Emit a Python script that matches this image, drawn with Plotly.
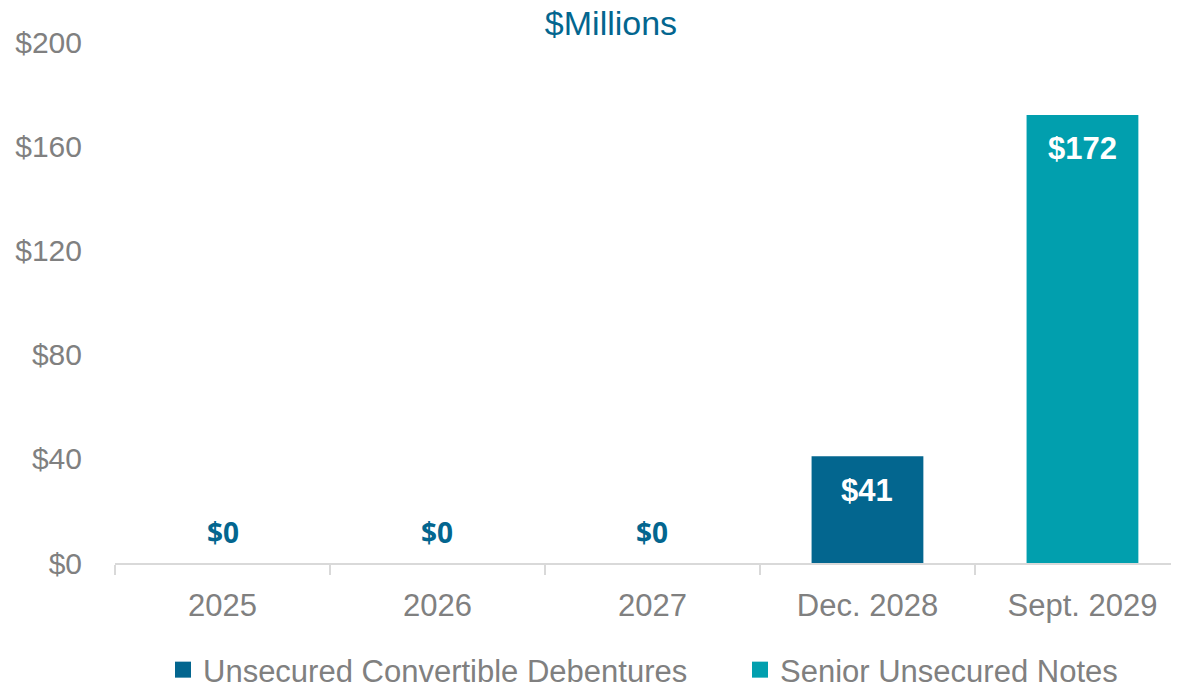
import plotly.graph_objects as go

categories = ["2025", "2026", "2027", "Dec. 2028", "Sept. 2029"]
convertible = [0, 0, 0, 41, None]
senior = [None, None, None, None, 172]
series_names = ["Unsecured Convertible Debentures", "Senior Unsecured Notes"]
y_ticks = [0, 40, 80, 120, 160, 200]
y_tick_labels = ["$0", "$40", "$80", "$120", "$160", "$200"]

DARK = "#03668f"
TEAL = "#019fae"
GRAY = "#808080"
FONT = "Liberation Sans, Arial"

# The page body adds an 8px offset; the figure is sized to fill the 1179x686 window.
W, H = 1171, 678

fig = go.Figure()
fig.add_trace(go.Bar(x=categories, y=convertible, name=series_names[0],
                     marker=dict(color=DARK, line=dict(width=0)), width=0.52, showlegend=False))
fig.add_trace(go.Bar(x=categories, y=senior, name=series_names[1],
                     marker=dict(color=TEAL, line=dict(width=0)), width=0.52, showlegend=False))
# legend proxies (square swatches), one per legend box
for nm, col, lg in zip(series_names, [DARK, TEAL], ["legend", "legend2"]):
    fig.add_trace(go.Scatter(x=[None], y=[None], mode="markers", name=nm, legend=lg,
                             marker=dict(symbol="square", size=18, color=col)))

annotations = []
for i, cat in enumerate(categories):
    vals = [v for v in (convertible[i], senior[i]) if v is not None]
    total = sum(vals)
    if total == 0:
        annotations.append(dict(x=i, y=0, text="<b>$0</b>", showarrow=False,
                                yshift=31, font=dict(family="Open Sans, Liberation Sans", size=28, color=DARK)))
    else:
        annotations.append(dict(x=i, y=total, text=f"<b>${total}</b>", showarrow=False,
                                yshift=-34, font=dict(family=FONT, size=31, color="white")))

legend_common = dict(orientation="h", xref="container", yref="container", xanchor="left",
                     y=1 - 662 / H, yanchor="middle",
                     font=dict(family=FONT, size=31, color=GRAY), bgcolor="rgba(0,0,0,0)")

fig.update_layout(
    width=W, height=H,
    barmode="overlay",
    plot_bgcolor="white", paper_bgcolor="white",
    margin=dict(l=107, r=0, t=34, b=123, autoexpand=False),
    title=dict(text="$Millions", x=603 / W, xanchor="center", y=1 - 15 / H, yanchor="middle",
               font=dict(family=FONT, size=34, color=DARK)),
    showlegend=True,
    legend=dict(x=155 / W, **legend_common),
    legend2=dict(x=732 / W, **legend_common),
    annotations=annotations,
)
fig.update_xaxes(type="category", range=[-0.5, 4.449], showline=True, linecolor="#d9d9d9", linewidth=2,
                 ticks="outside", tickson="boundaries", ticklen=10, tickcolor="#d9d9d9", tickwidth=2,
                 ticklabelstandoff=14,
                 tickfont=dict(family=FONT, size=31, color=GRAY), showgrid=False)
fig.update_yaxes(range=[0, 200], tickvals=y_ticks, ticktext=y_tick_labels, showgrid=False,
                 zeroline=False, showline=False, ticks="", ticklabelstandoff=32,
                 tickfont=dict(family=FONT, size=30, color=GRAY))

fig.write_html("out.html")
